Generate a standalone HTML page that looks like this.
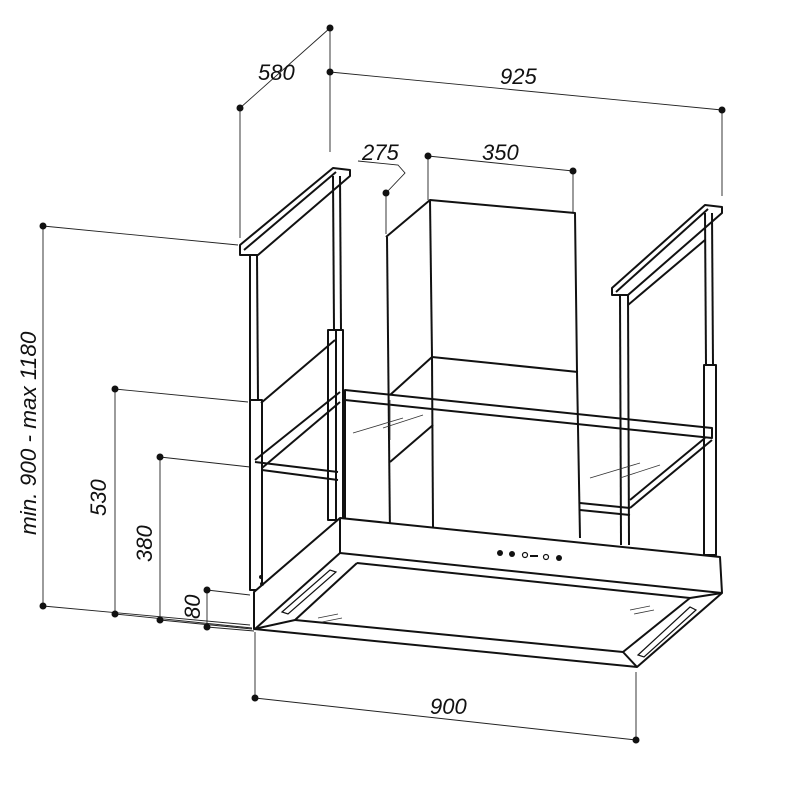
<!DOCTYPE html>
<html><head><meta charset="utf-8"><style>
html,body{margin:0;padding:0;background:#fff;}
svg{display:block;}
text{font-family:"Liberation Sans",Arial,sans-serif;font-style:italic;font-size:22px;fill:#111;}
.d{stroke:#222;stroke-width:0.9;fill:none;}
.o{stroke:#111;stroke-width:2;fill:none;stroke-linejoin:round;}
.t{stroke:#111;stroke-width:1.2;fill:none;}
.g{stroke:#333;stroke-width:0.8;fill:none;}
</style></head><body>
<svg width="803" height="796" viewBox="0 0 803 796" xmlns="http://www.w3.org/2000/svg">
<g class="d">
<line x1="330" y1="28" x2="240" y2="108"/>
<line x1="330" y1="28" x2="330" y2="152"/>
<line x1="240" y1="108" x2="240" y2="238"/>
<line x1="330" y1="72" x2="722" y2="110"/>
<line x1="722" y1="110" x2="722" y2="196"/>
<line x1="428" y1="156" x2="573" y2="171"/>
<line x1="428" y1="156" x2="428" y2="200"/>
<line x1="573" y1="171" x2="573" y2="213"/>
<line x1="386" y1="193" x2="386" y2="234"/>
<polyline points="386,193 405,173 398,165 358,161"/>
<line x1="43" y1="226" x2="43" y2="606"/>
<line x1="43" y1="226" x2="238" y2="245"/>
<line x1="43" y1="606" x2="250" y2="625"/>
<line x1="115" y1="389" x2="115" y2="614"/>
<line x1="115" y1="389" x2="248" y2="402"/>
<line x1="115" y1="614" x2="252" y2="628"/>
<line x1="160" y1="457" x2="160" y2="620"/>
<line x1="160" y1="457" x2="250" y2="467"/>
<line x1="160" y1="620" x2="252" y2="629"/>
<line x1="207" y1="590" x2="207" y2="627"/>
<line x1="207" y1="590" x2="250" y2="595"/>
<line x1="207" y1="627" x2="254" y2="631"/>
<line x1="255" y1="632" x2="255" y2="698"/>
<line x1="636" y1="672" x2="636" y2="740"/>
<line x1="255" y1="698" x2="636" y2="740"/>
</g>
<g fill="#111">
<circle cx="330" cy="28" r="3.5"/><circle cx="330" cy="72" r="3.5"/><circle cx="240" cy="108" r="3.5"/>
<circle cx="722" cy="110" r="3.5"/><circle cx="428" cy="156" r="3.5"/><circle cx="573" cy="171" r="3.5"/>
<circle cx="386" cy="193" r="3.5"/><circle cx="43" cy="226" r="3.5"/><circle cx="43" cy="606" r="3.5"/>
<circle cx="115" cy="389" r="3.5"/><circle cx="115" cy="614" r="3.5"/><circle cx="160" cy="457" r="3.5"/>
<circle cx="160" cy="620" r="3.5"/><circle cx="207" cy="590" r="3.5"/><circle cx="207" cy="627" r="3.5"/>
<circle cx="255" cy="698" r="3.5"/><circle cx="636" cy="740" r="3.5"/>
</g>
<text x="258" y="80">580</text>
<text x="500" y="84">925</text>
<text x="362" y="160">275</text>
<text x="482" y="160">350</text>
<text x="430" y="714">900</text>
<text transform="translate(36,535) rotate(-90)" style="font-size:22.5px">min. 900 - max 1180</text>
<text transform="translate(106,516) rotate(-90)">530</text>
<text transform="translate(152,562) rotate(-90)">380</text>
<text transform="translate(200,619) rotate(-90)">80</text>

<g class="o">
<polyline points="386,237 430,200 575,213 577,372"/>
<line x1="430" y1="200" x2="432" y2="357"/>
<line x1="387" y1="237" x2="390" y2="536"/>
<polyline points="390,395 432,357 578,372"/>
<line x1="577" y1="372" x2="580" y2="538"/>
<line x1="432" y1="357" x2="433" y2="527"/>
<line x1="390" y1="462" x2="433" y2="425"/>
</g>
<g class="o">
<polygon points="240,245 333,168 350,170 350,176 258,255 240,255" fill="#fff"/>
<line x1="244" y1="250" x2="336" y2="172"/>
<polyline points="250,255 250,590"/><polyline points="257,255 258,400"/>
<rect x="250" y="400" width="12" height="190" fill="#fff"/>
<line x1="333" y1="176" x2="334" y2="330"/><line x1="340" y1="176" x2="341" y2="330"/>
<rect x="328" y="330" width="15" height="190" fill="#fff"/>
<line x1="336" y1="330" x2="336" y2="520"/>
<line x1="261" y1="403" x2="335" y2="340"/>
</g>
<g class="o">
<polygon points="612,288 705,205 722,207 722,213 628,295 612,295" fill="#fff"/>
<line x1="616" y1="292" x2="708" y2="209"/>
<line x1="620" y1="295" x2="621" y2="545"/><line x1="628" y1="295" x2="629" y2="545"/>
<line x1="705" y1="213" x2="706" y2="365"/><line x1="712" y1="213" x2="713" y2="365"/>
<rect x="704" y="365" width="12" height="190" fill="#fff"/>
<line x1="628" y1="305" x2="705" y2="240"/>
</g>
<g class="o">
<polygon points="345,390 712,428 712,438 345,400" fill="none"/>
<line x1="345" y1="390" x2="345" y2="520"/>
<polyline points="255,460 340,392"/><polyline points="262,468 340,402"/>
<line x1="255" y1="462" x2="338" y2="472"/><line x1="262" y1="470" x2="338" y2="480"/>
<polyline points="712,440 630,508"/><polyline points="705,438 630,500"/>
<line x1="580" y1="503" x2="630" y2="508"/><line x1="580" y1="510" x2="630" y2="515"/>
</g>
<g class="g">
<line x1="353" y1="433" x2="403" y2="418"/><line x1="383" y1="428" x2="423" y2="415"/>
<line x1="590" y1="478" x2="640" y2="463"/><line x1="620" y1="478" x2="660" y2="465"/>
<line x1="390" y1="400" x2="390" y2="440"/>
</g>
<g class="o">
<polygon points="340,518 720,557 722,593 637,667 254,629 254,592" fill="#fff"/>
<line x1="340" y1="518" x2="340" y2="553"/>
<line x1="340" y1="553" x2="722" y2="593"/>
<line x1="340" y1="553" x2="255" y2="629"/>
<polyline points="357,563 690,598 623,652 295,620 357,563"/>
<line x1="637" y1="667" x2="623" y2="652"/>
<line x1="722" y1="593" x2="690" y2="598"/>
<line x1="254" y1="629" x2="295" y2="620"/>
</g>
<g class="t">
<polygon points="282,612 330,570 336,572 288,614"/>
<polygon points="638,655 690,607 696,610 644,657"/>
</g>
<g class="g">
<line x1="318" y1="618" x2="338" y2="614"/><line x1="322" y1="622" x2="342" y2="618"/>
<line x1="630" y1="610" x2="650" y2="606"/><line x1="634" y1="614" x2="654" y2="610"/>
</g>
<g fill="#111">
<circle cx="500" cy="553" r="3"/><circle cx="512" cy="554" r="3"/>
<circle cx="525" cy="555" r="2.5" fill="none" stroke="#111" stroke-width="1.2"/>
<rect x="530" y="555" width="8" height="2"/>
<circle cx="546" cy="557" r="2.5" fill="none" stroke="#111" stroke-width="1.2"/>
<circle cx="559" cy="558" r="3"/>
<circle cx="261" cy="577" r="2"/><circle cx="262" cy="584" r="2"/>
</g>
</svg>
</body></html>
